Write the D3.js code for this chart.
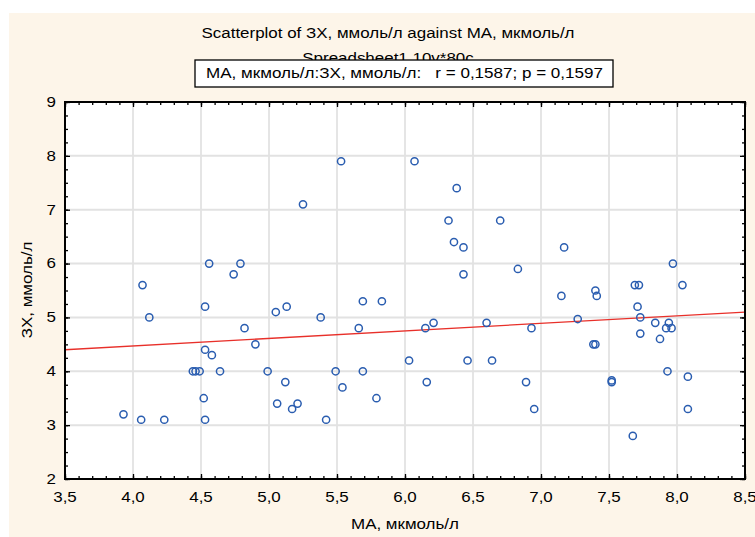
<!DOCTYPE html>
<html><head><meta charset="utf-8">
<script src="https://cdn.jsdelivr.net/npm/d3@7"></script>
<style>body{margin:0;background:#fff}svg{display:block}text{white-space:pre}</style>
</head><body>
<script>
// ---- data ----
const maValues = [3.93,4.06,4.07,4.12,4.23,4.44,4.46,4.49,4.52,4.53,4.53,4.53,4.56,4.58,4.64,4.74,4.79,4.82,4.90,4.99,
5.05,5.06,5.12,5.13,5.17,5.21,5.25,5.38,5.42,5.49,5.53,5.54,5.66,5.69,5.69,5.79,5.83,6.03,6.07,6.15,
6.16,6.21,6.32,6.36,6.38,6.43,6.43,6.46,6.60,6.64,6.70,6.83,6.89,6.93,6.95,7.15,7.17,7.27,7.385,7.40,
7.40,7.41,7.52,7.52,7.675,7.69,7.72,7.71,7.73,7.73,7.84,7.875,7.92,7.93,7.94,7.96,7.97,8.04,8.08,8.08];
const zxValues = [3.2,3.1,5.6,5.0,3.1,4.0,4.0,4.0,3.5,3.1,4.4,5.2,6.0,4.3,4.0,5.8,6.0,4.8,4.5,4.0,
5.1,3.4,3.8,5.2,3.3,3.4,7.1,5.0,3.1,4.0,7.9,3.7,4.8,5.3,4.0,3.5,5.3,4.2,7.9,4.8,
3.8,4.9,6.8,6.4,7.4,6.3,5.8,4.2,4.9,4.2,6.8,5.9,3.8,4.8,3.3,5.4,6.3,4.97,4.5,4.5,
5.5,5.4,3.83,3.8,2.8,5.6,5.6,5.2,5.0,4.7,4.9,4.6,4.8,4.0,4.9,4.8,6.0,5.6,3.9,3.3];
const xTickLabels = ["3,5","4,0","4,5","5,0","5,5","6,0","6,5","7,0","7,5","8,0","8,5"];
const xTickValues = [3.5,4.0,4.5,5.0,5.5,6.0,6.5,7.0,7.5,8.0,8.5];
const yTickValues = [2,3,4,5,6,7,8,9];
const fitX = [3.5, 8.5];
const fitY = [4.40, 5.10];
const titleText = "Scatterplot of ЗХ, ммоль/л against МА, мкмоль/л";
const subtitleText = "Spreadsheet1 10v*80c";
const statText = "МА, мкмоль/л:ЗХ, ммоль/л:   r = 0,1587; p = 0,1597";
const xLabel = "МА, мкмоль/л";
const yLabel = "ЗХ, ммоль/л";

// ---- layout ----
const W = 755, H = 537;
const L = 65, R = 745, T = 102, B = 479;
const font = "'Liberation Sans', Arial, sans-serif";
const stretch = 1.21;

const svg = d3.select("body").append("svg").attr("width", W).attr("height", H);
svg.append("rect").attr("x", 9).attr("y", 13).attr("width", W - 9).attr("height", H - 13).attr("fill", "#fdf5e9");
svg.append("rect").attr("x", L).attr("y", T).attr("width", R - L).attr("height", B - T).attr("fill", "#fff");

const x = d3.scaleLinear().domain([3.5, 8.5]).range([L, R]);
const y = d3.scaleLinear().domain([2, 9]).range([B, T]);

// grid
const g = svg.append("g");
g.selectAll(".vg").data(xTickValues.slice(1, -1)).join("line")
  .attr("x1", d => x(d)).attr("x2", d => x(d)).attr("y1", T).attr("y2", B)
  .attr("stroke", "#d4d4d4").attr("stroke-width", 1.2);
g.selectAll(".hg").data(yTickValues.slice(1, -1)).join("line")
  .attr("y1", d => y(d)).attr("y2", d => y(d)).attr("x1", L).attr("x2", R)
  .attr("stroke", "#e2e2e2").attr("stroke-width", 2);

// regression line
svg.append("line").attr("x1", x(fitX[0])).attr("x2", x(fitX[1]))
  .attr("y1", y(fitY[0])).attr("y2", y(fitY[1]))
  .attr("stroke", "#e8302a").attr("stroke-width", 1.3);

// points
svg.append("g").selectAll("circle").data(maValues.map((v, i) => [v, zxValues[i]])).join("circle")
  .attr("cx", d => x(d[0])).attr("cy", d => y(d[1])).attr("r", 3.6)
  .attr("fill", "none").attr("stroke", "#2a5db0").attr("stroke-width", 1.5);

// axes with inward ticks
const minorX = d3.range(35, 86).map(d => d / 10);
const minorY = d3.range(8, 37).map(d => d / 4);
function ax(gen, tr) { return svg.append("g").attr("transform", tr).call(gen).call(s => s.select(".domain").remove()).call(s => s.selectAll("text").remove()); }
ax(d3.axisTop(x).tickValues(minorX).tickSize(3), `translate(0,${B})`);
ax(d3.axisTop(x).tickValues(xTickValues).tickSize(5), `translate(0,${B})`);
ax(d3.axisBottom(x).tickValues(minorX).tickSize(3), `translate(0,${T})`);
ax(d3.axisBottom(x).tickValues(xTickValues).tickSize(5), `translate(0,${T})`);
ax(d3.axisRight(y).tickValues(minorY).tickSize(3), `translate(${L},0)`);
ax(d3.axisRight(y).tickValues(yTickValues).tickSize(5), `translate(${L},0)`);
ax(d3.axisLeft(y).tickValues(minorY).tickSize(3), `translate(${R},0)`);
ax(d3.axisLeft(y).tickValues(yTickValues).tickSize(5), `translate(${R},0)`);
svg.selectAll(".tick line").attr("stroke", "#000").attr("stroke-width", 1.3);
svg.append("rect").attr("x", L).attr("y", T).attr("width", R - L).attr("height", B - T)
  .attr("fill", "none").attr("stroke", "#000").attr("stroke-width", 2);

function widen(sel) {
  sel.each(function () {
    const w = this.getComputedTextLength();
    d3.select(this).attr("textLength", w * stretch).attr("lengthAdjust", "spacingAndGlyphs");
  });
  return sel;
}

// tick labels
widen(svg.append("g").selectAll("text").data(xTickValues).join("text")
  .attr("x", d => x(d)).attr("y", 497).attr("dy", "0.35em").attr("text-anchor", "middle")
  .attr("font-family", font).attr("font-size", 14).text((d, i) => xTickLabels[i]));
widen(svg.append("g").selectAll("text").data(yTickValues).join("text")
  .attr("x", 56).attr("y", d => y(d)).attr("dy", "0.35em").attr("text-anchor", "end")
  .attr("font-family", font).attr("font-size", 14).text(d => d));

// axis titles
widen(svg.append("text").attr("x", 405).attr("y", 524).attr("dy", "0.35em").attr("text-anchor", "middle")
  .attr("font-family", font).attr("font-size", 14).text(xLabel));
widen(svg.append("text").attr("transform", `translate(27,290) rotate(-90)`).attr("dy", "0.35em").attr("text-anchor", "middle")
  .attr("font-family", font).attr("font-size", 14).text(yLabel));

// titles
widen(svg.append("text").attr("x", 388).attr("y", 33).attr("dy", "0.35em").attr("text-anchor", "middle")
  .attr("font-family", font).attr("font-size", 14).text(titleText));
widen(svg.append("text").attr("x", 388).attr("y", 58).attr("dy", "0.35em").attr("text-anchor", "middle")
  .attr("font-family", font).attr("font-size", 14).text(subtitleText));
svg.append("rect").attr("x", 195).attr("y", 60).attr("width", 418).attr("height", 27)
  .attr("fill", "#fff").attr("stroke", "#000").attr("stroke-width", 1.3);
const st = svg.append("text").attr("x", 206).attr("y", 73.5).attr("dy", "0.35em").attr("text-anchor", "start")
  .attr("font-family", font).attr("font-size", 14).text(statText);
st.attr("textLength", 397).attr("lengthAdjust", "spacingAndGlyphs");
</script>
</body></html>
